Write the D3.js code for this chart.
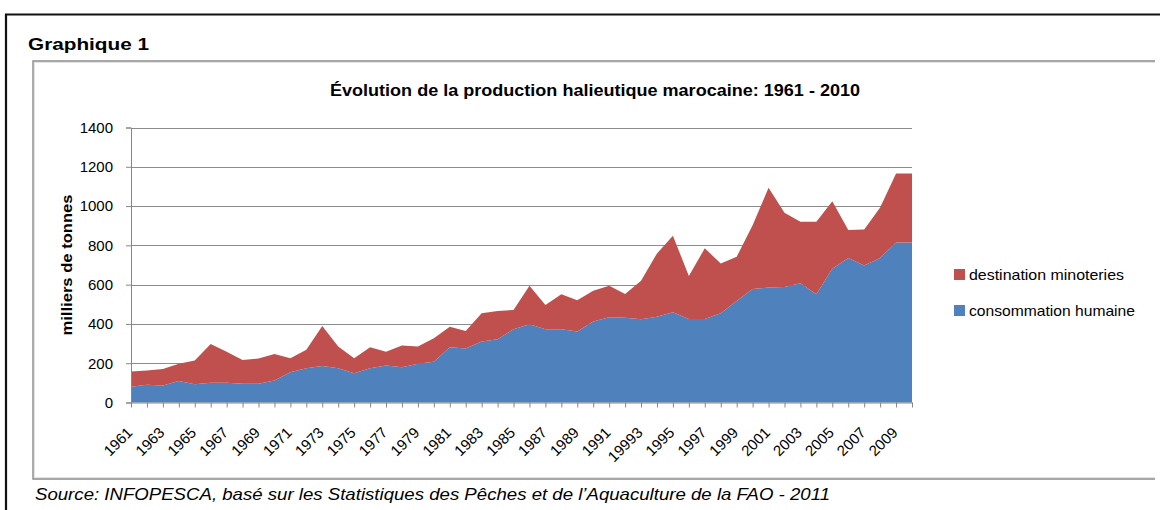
<!DOCTYPE html>
<html><head><meta charset="utf-8">
<script src="https://cdn.jsdelivr.net/npm/d3@7"></script>
<style>html,body{margin:0;padding:0;background:#fff;} svg{display:block;}</style>
</head><body>
<svg id="chart" width="1160" height="510"></svg>
<script>
const years = [1961,1962,1963,1964,1965,1966,1967,1968,1969,1970,
  1971,1972,1973,1974,1975,1976,1977,1978,1979,1980,
  1981,1982,1983,1984,1985,1986,1987,1988,1989,1990,
  1991,1992,1993,1994,1995,1996,1997,1998,1999,2000,
  2001,2002,2003,2004,2005,2006,2007,2008,2009,2010];
const tickLabels = ["1961","1963","1965","1967","1969","1971","1973","1975","1977","1979",
  "1981","1983","1985","1987","1989","1991","19993","1995","1997","1999",
  "2001","2003","2005","2007","2009"];
const consommation = [80,90,86,110,93,100,100,95,96,112,
  154,175,186,175,149,175,188,180,197,208,
  281,275,310,322,373,398,373,373,361,412,
  434,431,424,436,459,425,425,454,517,578,
  585,588,607,551,681,736,697,736,815,815];
const minoteries = [78,73,85,87,121,198,159,122,128,135,
  71,93,204,110,76,106,71,110,88,119,
  105,89,144,144,98,197,124,178,159,157,
  161,122,196,323,390,219,360,254,225,325,
  508,378,313,369,344,142,184,257,351,351];
const seriesKeys = ["consommation humaine","destination minoteries"];
const seriesColors = ["#4F81BD","#C0504D"];
const yTicks = [0,200,400,600,800,1000,1200,1400];
const legendOrder = ["destination minoteries","consommation humaine"];

const svg = d3.select("#chart");
const font = "'Liberation Sans', Arial, sans-serif";

// outer frame (black)
svg.append("path").attr("d","M6,510 V14.5 H1160").attr("fill","none")
  .attr("stroke","#111").attr("stroke-width",2.2);
svg.append("text").attr("x",28).attr("y",49.5).attr("font-family",font)
  .attr("font-weight","bold").attr("font-size",17).attr("textLength",121)
  .attr("lengthAdjust","spacingAndGlyphs").text("Graphique 1");

// inner chart box
svg.append("path").attr("d","M1155,61 H33 V479 H1155").attr("fill","none")
  .attr("stroke","#8a8a8a").attr("stroke-width",1.4);
svg.append("path").attr("d","M1155,62.5 H34.5 V477.5 H1155").attr("fill","none")
  .attr("stroke","#dcdcdc").attr("stroke-width",0.8);

// scales
const x = d3.scalePoint().domain(years).range([131, 912]);
const y = d3.scaleLinear().domain([0, 1400]).range([402.5, 127.5]);

// gridlines
svg.append("g").selectAll("line").data(yTicks.filter(d => d > 0)).join("line")
  .attr("x1", 131).attr("x2", 912)
  .attr("y1", d => Math.round(y(d)) + 0.5).attr("y2", d => Math.round(y(d)) + 0.5)
  .attr("stroke", "#8c8c8c").attr("stroke-width", 1.2);

// stacked areas
const table = years.map((yr, i) => ({year: yr, "consommation humaine": consommation[i], "destination minoteries": minoteries[i]}));
const stacked = d3.stack().keys(seriesKeys)(table);
const area = d3.area().x(d => x(d.data.year)).y0(d => y(d[0])).y1(d => y(d[1]));
svg.append("g").selectAll("path").data(stacked).join("path")
  .attr("d", area).attr("fill", (d, i) => seriesColors[i]);

// y axis
const yAxis = svg.append("g").attr("transform", "translate(131,0)")
  .call(d3.axisLeft(y).tickValues(yTicks).tickSize(5).tickPadding(13).tickFormat(d3.format("d")));
yAxis.selectAll("path,line").attr("stroke", "#868686");
yAxis.selectAll("text").attr("font-family", font).attr("font-size", 15).attr("fill", "#000");

// x axis
const xAxis = svg.append("g").attr("transform", "translate(0,402.5)")
  .call(d3.axisBottom(x).tickValues(years).tickSize(5).tickSizeOuter(0)
    .tickFormat((d, i) => i % 2 === 0 ? tickLabels[i / 2] : ""));
xAxis.selectAll("path,line").attr("stroke", "#868686");
xAxis.selectAll("text").attr("font-family", font).attr("font-size", 15).attr("fill", "#000")
  .attr("text-anchor", "end").attr("x", 0).attr("y", 0).attr("dy", 0)
  .attr("transform", "translate(2,31) rotate(-45)");

// axis title
svg.append("text").attr("transform", "translate(72,265) rotate(-90)")
  .attr("text-anchor", "middle").attr("font-family", font).attr("font-weight", "bold")
  .attr("font-size", 15).attr("textLength", 141).attr("lengthAdjust", "spacingAndGlyphs")
  .text("milliers de tonnes");

// chart title
svg.append("text").attr("x", 595).attr("y", 96).attr("text-anchor", "middle")
  .attr("font-family", font).attr("font-weight", "bold").attr("font-size", 17)
  .attr("textLength", 530).attr("lengthAdjust", "spacingAndGlyphs")
  .text("Évolution de la production halieutique marocaine: 1961 - 2010");

// legend
const lg = svg.append("g").selectAll("g").data(legendOrder).join("g")
  .attr("transform", (d, i) => `translate(954,${269 + i * 36})`);
lg.append("rect").attr("width", 11).attr("height", 11)
  .attr("fill", d => seriesColors[seriesKeys.indexOf(d)]);
lg.append("text").attr("x", 15).attr("y", 11).attr("font-family", font).attr("font-size", 15)
  .attr("textLength", (d, i) => i === 0 ? 155 : 166).attr("lengthAdjust", "spacingAndGlyphs")
  .text(d => d);

// source
svg.append("text").attr("x", 35).attr("y", 500).attr("font-family", font).attr("font-style", "italic")
  .attr("font-size", 17).attr("textLength", 795).attr("lengthAdjust", "spacingAndGlyphs")
  .text("Source: INFOPESCA, basé sur les Statistiques des Pêches et de l’Aquaculture de la FAO - 2011");
</script>
</body></html>
